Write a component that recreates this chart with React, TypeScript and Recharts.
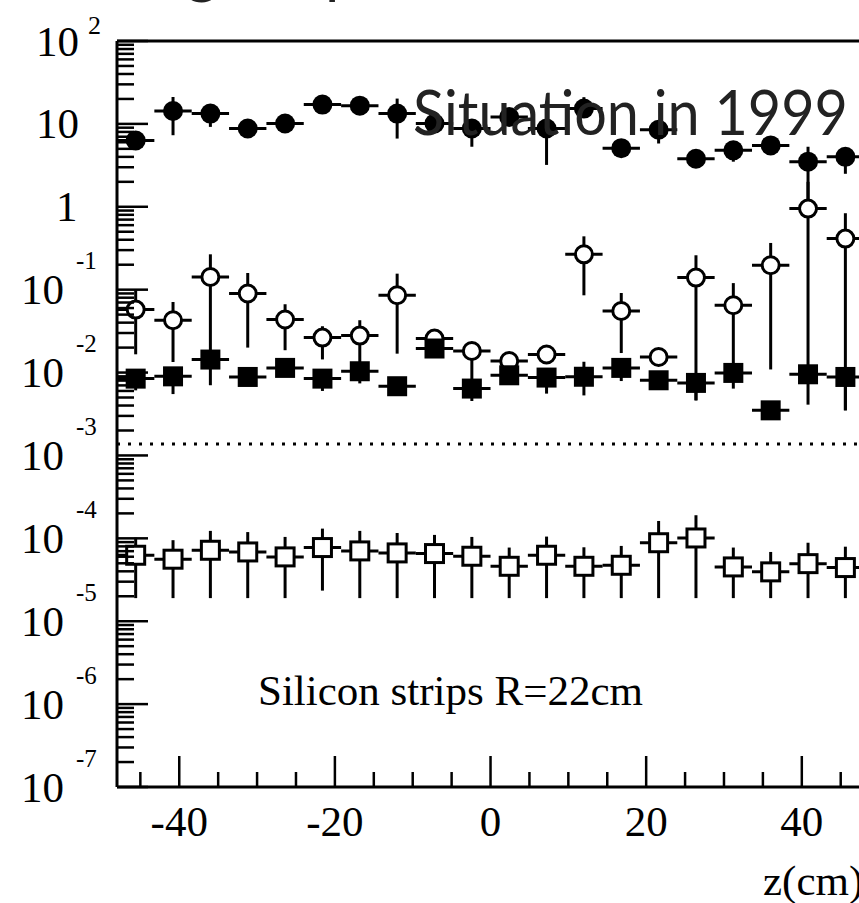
import { ScatterChart, Scatter, XAxis, YAxis, ErrorBar, ReferenceLine } from 'recharts'

// bin centres along z (cm), each bin is 4.8 cm wide
const zBins = [-45.6, -40.8, -36.0, -31.2, -26.4, -21.6, -16.8, -12.0, -7.2, -2.4, 2.4, 7.2, 12.0, 16.8, 21.6, 26.4, 31.2, 36.0, 40.8, 45.6]
const binHalfWidth = 2.4

// filled circles
const fcVal = [6.3, 14.3, 13.3, 8.8, 10.1, 17.1, 16.6, 13.3, 10.1, 8.8, 12.1, 8.8, 15.3, 5.1, 8.5, 3.8, 4.8, 5.5, 3.5, 4.0]
const fcLo = [5.6, 7.3, 9.2, 7.8, 9.0, 15.5, 15.0, 6.65, 9.0, 5.3, 10.5, 3.2, 13.5, 4.6, 5.8, 3.4, 3.5, 5.0, 1.2, 2.5]
const fcHi = [7.3, 21.1, 15.0, 9.8, 11.2, 18.5, 18.3, 20.2, 11.3, 9.8, 14.0, 9.8, 21.0, 5.7, 9.5, 4.2, 5.3, 6.1, 5.3, 4.6]

// open circles
const ocVal = [0.0575, 0.0428, 0.142, 0.0898, 0.0436, 0.0264, 0.0279, 0.0856, 0.0257, 0.0182, 0.0138, 0.0165, 0.267, 0.0553, 0.0154, 0.14, 0.0649, 0.197, 0.95, 0.413]
const ocLo = [0.0166, 0.0134, 0.00703, 0.02, 0.0186, 0.0144, 0.0129, 0.0169, 0.021, 0.0064, 0.011, 0.013, 0.0855, 0.0172, 0.012, 0.0046, 0.0099, 0.0109, 0.0095, 0.0035]
const ocHi = [0.098, 0.071, 0.267, 0.159, 0.0667, 0.0362, 0.0428, 0.156, 0.031, 0.022, 0.0165, 0.0195, 0.44, 0.0912, 0.018, 0.26, 0.12, 0.366, 2.0, 0.836]

// filled squares
const fsVal = [0.00845, 0.009, 0.01435, 0.00885, 0.01138, 0.00845, 0.01037, 0.00684, 0.0195, 0.00641, 0.00927, 0.0087, 0.0089, 0.01138, 0.00807, 0.0075, 0.0099, 0.0035, 0.00953, 0.00885]
const fsLo = [0.0061, 0.0055, 0.0115, 0.0075, 0.0097, 0.006, 0.0074, 0.0058, 0.0165, 0.00454, 0.0072, 0.00557, 0.0053, 0.0079, 0.0068, 0.00464, 0.0064, 0.0029, 0.0041, 0.0035]
const fsHi = [0.0105, 0.011, 0.018, 0.0105, 0.0135, 0.01, 0.0125, 0.0081, 0.023, 0.0076, 0.011, 0.0103, 0.0135, 0.0135, 0.0096, 0.0089, 0.0118, 0.0042, 0.0113, 0.0105]

// open squares
const osVal = [6.25e-5, 5.6e-5, 7.18e-5, 6.85e-5, 5.97e-5, 7.74e-5, 7.05e-5, 6.67e-5, 6.55e-5, 6.08e-5, 4.6e-5, 6.25e-5, 4.6e-5, 4.73e-5, 8.85e-5, 1.01e-4, 4.52e-5, 3.94e-5, 4.95e-5, 4.44e-5]
const osLo = [1.9e-5, 1.9e-5, 1.9e-5, 1.9e-5, 1.9e-5, 2.34e-5, 1.9e-5, 1.9e-5, 1.9e-5, 1.9e-5, 1.9e-5, 1.9e-5, 1.9e-5, 1.9e-5, 1.9e-5, 1.9e-5, 1.9e-5, 1.9e-5, 1.9e-5, 1.9e-5]
const osHi = [1.02e-4, 9.5e-5, 1.23e-4, 1.19e-4, 1.04e-4, 1.31e-4, 1.23e-4, 1.16e-4, 1.1e-4, 1.04e-4, 7.74e-5, 1.05e-4, 7.8e-5, 8.1e-5, 1.62e-4, 1.9e-4, 7.74e-5, 6.85e-5, 8.85e-5, 7.93e-5]

// dotted threshold
const cutLevel = 0.00137

const xTicks = [-45, -40, -35, -30, -25, -20, -15, -10, -5, 0, 5, 10, 15, 20, 25, 30, 35, 40, 45]
const xLabelTicks = [-40, -20, 0, 20, 40]
const yDecades = [-7, -6, -5, -4, -3, -2, -1, 0, 1, 2]
const yMinorSteps = [2, 3, 4, 5, 6, 7, 8, 9]

const majorY = yDecades.map(e => Math.pow(10, e))
const minorY = yDecades.slice(0, -1).flatMap(e => yMinorSteps.map(k => k * Math.pow(10, e)))
const yTicks = [...majorY, ...minorY]

const serif = '"Liberation Serif", "Times New Roman", serif'

function rows(vals: number[], lo: number[], hi: number[]) {
    return zBins.map((z, i) => ({
        z,
        v: vals[i],
        ex: [binHalfWidth, binHalfWidth],
        ey: [vals[i] - lo[i], hi[i] - vals[i]]
    }))
}

const fcData = rows(fcVal, fcLo, fcHi)
const ocData = rows(ocVal, ocLo, ocHi)
const fsData = rows(fsVal, fsLo, fsHi)
const osData = rows(osVal, osLo, osHi)

const FilledCircle = (p: any) => <circle cx={p.cx} cy={p.cy} r={10} fill="#000" />
const OpenCircle = (p: any) => <circle cx={p.cx} cy={p.cy} r={8.5} fill="#fff" stroke="#000" strokeWidth={3} />
const FilledSquare = (p: any) => <rect x={p.cx - 10} y={p.cy - 10} width={20} height={20} fill="#000" />
const OpenSquare = (p: any) => <rect x={p.cx - 9} y={p.cy - 9} width={18} height={18} fill="#fff" stroke="#000" strokeWidth={3} />

function YTick({ x, y, payload }: any) {
    const lg = Math.log10(payload.value)
    const e = Math.round(lg)
    const major = Math.abs(lg - e) < 1e-6
    if (!major) {
        return <line x1={x} x2={x + 17} y1={y} y2={y} stroke="#000" strokeWidth={2.5} />
    }
    let label
    if (e === 2) {
        label = (
            <>
                <text x={x - 81} y={y + 14.5} fontSize={43} fontFamily={serif}>10</text>
                <text x={x - 29} y={y - 7.5} fontSize={26} fontFamily={serif}>2</text>
            </>
        )
    } else if (e === 1) {
        label = <text x={x - 81} y={y + 14.5} fontSize={43} fontFamily={serif}>10</text>
    } else if (e === 0) {
        label = <text x={x - 61} y={y + 14.5} fontSize={43} fontFamily={serif}>1</text>
    } else {
        label = (
            <>
                <text x={x - 96} y={y + 14.5} fontSize={43} fontFamily={serif}>10</text>
                <text x={x - 41} y={y - 20.5} fontSize={25} fontFamily={serif}>{e}</text>
            </>
        )
    }
    return (
        <g>
            <line x1={x} x2={x + 31} y1={y} y2={y} stroke="#000" strokeWidth={2.5} />
            {label}
        </g>
    )
}

function XTick({ x, y, payload }: any) {
    const v = payload.value
    const major = xLabelTicks.includes(v)
    return (
        <g>
            <line x1={x} x2={x} y1={y} y2={y - (major ? 31 : 15)} stroke="#000" strokeWidth={2.5} />
            {major && (
                <text x={x} y={y + 49} textAnchor="middle" fontSize={43} fontFamily={serif}>{v}</text>
            )}
        </g>
    )
}

export default function App() {
    return (
        <div style={{ position: 'absolute', left: 0, top: 0, width: 859, height: 903, overflow: 'hidden', background: '#fff' }}>
            <ScatterChart width={859} height={903} margin={{ top: 41, right: 0, bottom: 0, left: 0 }}>
                <XAxis
                    type="number"
                    dataKey="z"
                    domain={[-48, 47.35]}
                    ticks={xTicks}
                    interval={0}
                    allowDataOverflow
                    height={116}
                    tickSize={0}
                    tickMargin={0}
                    tickLine={false}
                    tick={<XTick />}
                    axisLine={{ stroke: '#000', strokeWidth: 3 }}
                />
                <YAxis
                    type="number"
                    dataKey="v"
                    scale="log"
                    domain={[1e-7, 100]}
                    ticks={yTicks}
                    interval={0}
                    allowDataOverflow
                    width={117}
                    tickSize={0}
                    tickMargin={0}
                    tickLine={false}
                    tick={<YTick />}
                    axisLine={{ stroke: '#000', strokeWidth: 3 }}
                />
                <ReferenceLine y={100} stroke="#000" strokeWidth={3} />
                <ReferenceLine y={cutLevel} stroke="#000" strokeWidth={3} strokeDasharray="3 8" />
                <Scatter data={fcData} shape={FilledCircle} isAnimationActive={false}>
                    <ErrorBar dataKey="ey" direction="y" width={0} stroke="#000" strokeWidth={3} isAnimationActive={false} />
                    <ErrorBar dataKey="ex" direction="x" width={0} stroke="#000" strokeWidth={3} isAnimationActive={false} />
                </Scatter>
                <Scatter data={ocData} shape={OpenCircle} isAnimationActive={false}>
                    <ErrorBar dataKey="ey" direction="y" width={0} stroke="#000" strokeWidth={3} isAnimationActive={false} />
                    <ErrorBar dataKey="ex" direction="x" width={0} stroke="#000" strokeWidth={3} isAnimationActive={false} />
                </Scatter>
                <Scatter data={fsData} shape={FilledSquare} isAnimationActive={false}>
                    <ErrorBar dataKey="ey" direction="y" width={0} stroke="#000" strokeWidth={3} isAnimationActive={false} />
                    <ErrorBar dataKey="ex" direction="x" width={0} stroke="#000" strokeWidth={3} isAnimationActive={false} />
                </Scatter>
                <Scatter data={osData} shape={OpenSquare} isAnimationActive={false}>
                    <ErrorBar dataKey="ey" direction="y" width={0} stroke="#000" strokeWidth={3} isAnimationActive={false} />
                    <ErrorBar dataKey="ex" direction="x" width={0} stroke="#000" strokeWidth={3} isAnimationActive={false} />
                </Scatter>
            </ScatterChart>
            <svg width={859} height={903} style={{ position: 'absolute', left: 0, top: 0, pointerEvents: 'none' }}>
                {/* bits of the slide title that hang into the frame */}
                <text x={186} y={-9} fontSize={62} fontFamily="Lato, sans-serif" fill="#222">g</text>
                <text x={325} y={-9} fontSize={62} fontFamily="Lato, sans-serif" fill="#222">p</text>
                <text x={413} y={135} fontSize={62} fontFamily="Lato, sans-serif" fill="#222" textLength={435} lengthAdjust="spacingAndGlyphs">
                    Situation in 1999
                </text>
                <text x={258} y={705} fontSize={43} fontFamily={serif}>Silicon strips R=22cm</text>
                <text x={763} y={895} fontSize={43} fontFamily={serif}>z(cm)</text>
            </svg>
        </div>
    )
}
